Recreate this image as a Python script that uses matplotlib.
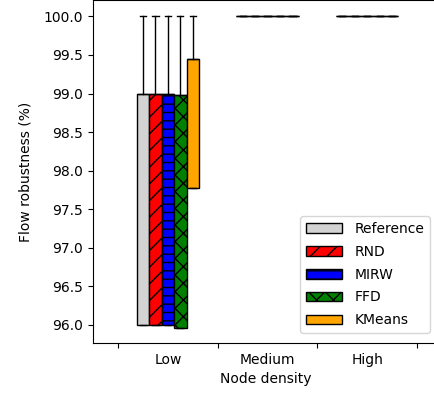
import matplotlib
matplotlib.use('Agg')
import matplotlib.pyplot as plt
from matplotlib.patches import Patch

# groups and methods
densities = ['Low', 'Medium', 'High']
methods = ['Reference', 'RND', 'MIRW', 'FFD', 'KMeans']
colors = ['lightgray', 'red', 'blue', 'green', 'orange']
hatches = ['', '//', '--', 'xx', '']

# box statistics per method, per density: (whislo, q1, med, q3, whishi)
reference = [(96.0, 96.0, 99.0, 99.0, 100.0), (100.0,) * 5, (100.0,) * 5]
rnd = [(96.0, 96.0, 98.99, 98.99, 100.0), (100.0,) * 5, (100.0,) * 5]
mirw = [(96.0, 96.0, 98.99, 98.99, 100.0), (100.0,) * 5, (100.0,) * 5]
ffd = [(95.96, 95.96, 98.98, 98.98, 100.0), (100.0,) * 5, (100.0,) * 5]
kmeans = [(97.78, 97.78, 99.45, 99.45, 100.0), (100.0,) * 5, (100.0,) * 5]
all_stats = [reference, rnd, mirw, ffd, kmeans]

fig, ax = plt.subplots(figsize=(4.35, 3.96), dpi=100)
fig.subplots_adjust(left=0.214, right=1.007, top=0.999, bottom=0.134)

width = 0.125
for i, stats in enumerate(all_stats):
    boxes = []
    for s in stats:
        lo, q1, med, q3, hi = s
        boxes.append({'whislo': lo, 'q1': q1, 'med': med, 'q3': q3,
                      'whishi': hi, 'fliers': []})
    pos = [g + 0.5 + (i - 2) * width for g in range(len(densities))]
    bp = ax.bxp(boxes, positions=pos, widths=width, patch_artist=True,
                showfliers=False, manage_ticks=False,
                medianprops={'color': 'black'})
    for b in bp['boxes']:
        b.set_facecolor(colors[i])
        b.set_hatch(hatches[i])
        b.set_edgecolor('black')

ax.set_xlim(-0.25, 3.21)
ax.set_ylim(95.767, 100.207)
ax.set_xticks([0, 1, 2, 3])
ax.set_xticklabels([])
ax.set_xticks([0.5, 1.5, 2.5], minor=True)
ax.set_xticklabels(densities, minor=True)
ax.tick_params(axis='x', which='minor', length=0, pad=7)
ax.set_yticks([96.0, 96.5, 97.0, 97.5, 98.0, 98.5, 99.0, 99.5, 100.0])
ax.set_xlabel('Node density')
ax.set_ylabel('Flow robustness (%)', labelpad=8)

handles = [Patch(facecolor=c, edgecolor='black', hatch=h, label=m)
           for m, c, h in zip(methods, colors, hatches)]
ax.legend(handles=handles, loc='lower right', handlelength=2.6,
          handletextpad=0.9, labelspacing=0.64,
          bbox_to_anchor=(0.997, 0.009))

fig.savefig('out.png')
